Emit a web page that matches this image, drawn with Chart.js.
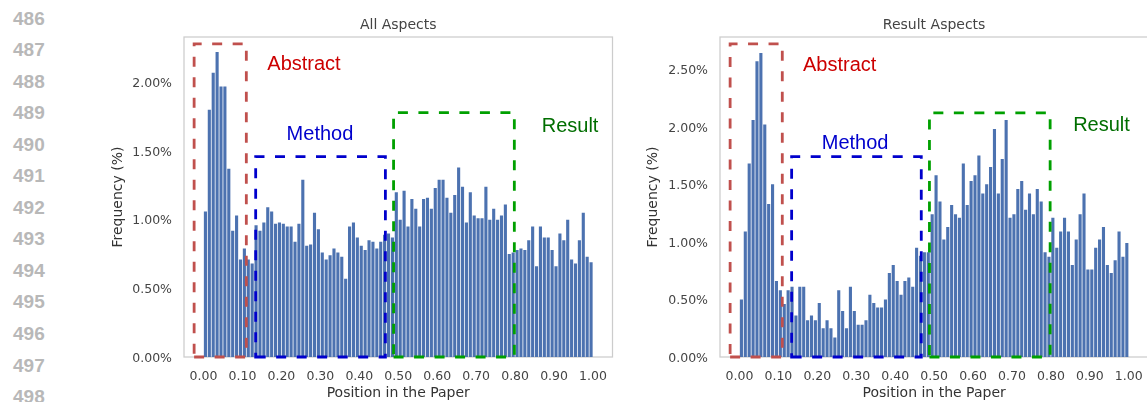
<!DOCTYPE html>
<html>
<head>
<meta charset="utf-8">
<script src="https://cdn.jsdelivr.net/npm/chart.js@4.4.1/dist/chart.umd.min.js"></script>
<style>
  html, body { margin: 0; padding: 0; background: #fff; }
  #wrap { position: relative; width: 1147px; height: 402px; overflow: hidden; }
  .lineno { position: absolute; left: 13px; font: bold 19px "Liberation Sans", Arial, sans-serif; color: #b8b8b8; line-height: 19px; }
  canvas { position: absolute; top: 0; }
</style>
</head>
<body>
<div id="wrap">
  <canvas id="chart-all" width="535" height="402" style="left:90px"></canvas>
  <canvas id="chart-result" width="530" height="402" style="left:625px"></canvas>
</div>
<script>
// Histogram bins: 100 bins of width 0.01 over [0, 1]
const BIN_CENTERS = Array.from({ length: 100 }, (_, i) => (i + 0.5) / 100);

// Frequency (%) per bin
const ALL_FREQ = [
  1.06, 1.80, 2.07, 2.22, 1.97, 1.97, 1.37, 0.92, 1.03, 0.71,
  0.79, 0.71, 0.68, 0.96, 0.92, 0.98, 1.09, 1.06, 0.97, 0.98,
  0.97, 0.95, 0.95, 0.84, 0.97, 1.29, 0.81, 0.82, 1.05, 0.93,
  0.76, 0.71, 0.74, 0.79, 0.76, 0.73, 0.57, 0.95, 0.98, 0.87,
  0.81, 0.78, 0.85, 0.84, 0.79, 0.84, 0.89, 0.90, 0.87, 1.20,
  1.00, 1.21, 0.95, 1.15, 1.08, 0.95, 1.15, 1.16, 1.08, 1.23,
  1.29, 1.29, 1.16, 1.05, 1.18, 1.38, 1.24, 0.98, 1.20, 1.03,
  1.01, 1.01, 1.24, 1.00, 1.08, 1.00, 1.03, 1.11, 0.75, 0.76,
  0.78, 0.79, 0.78, 0.85, 0.95, 0.66, 0.95, 0.87, 0.87, 0.78,
  0.66, 0.90, 0.85, 1.00, 0.71, 0.68, 0.85, 1.05, 0.73, 0.69,
];

const RESULT_FREQ = [
  0.50, 1.09, 1.68, 2.06, 2.57, 2.64, 2.02, 1.33, 1.50, 0.66,
  0.58, 0.46, 0.58, 0.61, 0.36, 0.61, 0.61, 0.32, 0.36, 0.32,
  0.47, 0.25, 0.32, 0.25, 0.17, 0.58, 0.40, 0.25, 0.61, 0.40,
  0.28, 0.28, 0.32, 0.54, 0.47, 0.43, 0.43, 0.50, 0.73, 0.80,
  0.66, 0.54, 0.66, 0.69, 0.61, 0.95, 0.88, 0.91, 0.91, 1.24,
  1.58, 1.35, 1.02, 1.13, 1.32, 1.24, 1.21, 1.68, 1.32, 1.53,
  1.58, 1.75, 1.42, 1.50, 1.65, 1.98, 1.42, 1.72, 2.06, 1.21,
  1.24, 1.46, 1.53, 1.28, 1.42, 1.24, 1.46, 1.35, 0.91, 0.87,
  1.21, 0.95, 1.09, 1.21, 1.09, 0.80, 1.02, 1.24, 1.42, 0.76,
  0.76, 0.95, 1.02, 1.13, 0.80, 0.73, 0.84, 1.09, 0.87, 0.99,
];

const X_TICKS = [0, 0.1, 0.2, 0.3, 0.4, 0.5, 0.6, 0.7, 0.8, 0.9, 1.0];
const Y_TICKS_ALL = [0, 0.5, 1.0, 1.5, 2.0];
const Y_TICKS_RESULT = [0, 0.5, 1.0, 1.5, 2.0, 2.5];

const LINE_NUMBERS = [486, 487, 488, 489, 490, 491, 492, 493, 494, 495, 496, 497, 498];

// Section boxes (data coords) and their labels
const REGIONS_ALL = [
  { name: 'Abstract', x0: -0.024, x1: 0.11, top: 2.28, lx: 0.258, ly: 2.127, box: '#c0504d', text: '#cc0000' },
  { name: 'Method', x0: 0.134, x1: 0.467, top: 1.459, lx: 0.299, ly: 1.617, box: '#0000cc', text: '#0000cc' },
  { name: 'Result', x0: 0.488, x1: 0.798, top: 1.779, lx: 0.941, ly: 1.682, box: '#00a000', text: '#006e00' },
];
const REGIONS_RESULT = [
  { name: 'Abstract', x0: -0.024, x1: 0.11, top: 2.72, lx: 0.2575, ly: 2.533, box: '#c0504d', text: '#cc0000' },
  { name: 'Method', x0: 0.134, x1: 0.467, top: 1.74, lx: 0.297, ly: 1.857, box: '#0000cc', text: '#0000cc' },
  { name: 'Result', x0: 0.488, x1: 0.798, top: 2.12, lx: 0.93, ly: 2.007, box: '#00a000', text: '#006e00' },
];

const FONT = '"DejaVu Sans", sans-serif';
const TEXT = '#444444';

// line numbers down the left margin
const wrap = document.getElementById('wrap');
LINE_NUMBERS.forEach((n, k) => {
  const el = document.createElement('div');
  el.className = 'lineno';
  el.textContent = n;
  el.style.top = (8.5 + k * 31.55) + 'px';
  wrap.appendChild(el);
});

// light grey frame round the plot area
const framePlugin = {
  id: 'frame',
  beforeDatasetsDraw(chart) {
    const { ctx, chartArea: a } = chart;
    ctx.save();
    ctx.strokeStyle = '#cccccc';
    ctx.lineWidth = 1.25;
    ctx.strokeRect(a.left, a.top, a.right - a.left, a.bottom - a.top);
    ctx.restore();
  },
};

// dashed section boxes + labels
const regionPlugin = {
  id: 'regions',
  afterDatasetsDraw(chart, args, opts) {
    const { ctx, scales: { x, y } } = chart;
    ctx.save();
    opts.list.forEach((r) => {
      const x0 = x.getPixelForValue(r.x0);
      const x1 = x.getPixelForValue(r.x1);
      const yb = y.getPixelForValue(0);
      const yt = y.getPixelForValue(r.top);
      ctx.strokeStyle = r.box;
      ctx.lineWidth = 2.8;
      ctx.setLineDash([10, 10.5]);
      ctx.beginPath();
      ctx.moveTo(x0, yb);
      ctx.lineTo(x1, yb);
      ctx.lineTo(x1, yt);
      ctx.lineTo(x0, yt);
      ctx.closePath();
      ctx.stroke();

      ctx.setLineDash([]);
      ctx.fillStyle = r.text;
      ctx.font = '20px "Liberation Sans", Arial, sans-serif';
      ctx.textAlign = 'center';
      ctx.textBaseline = 'middle';
      ctx.fillText(r.name, x.getPixelForValue(r.lx), y.getPixelForValue(r.ly));
    });
    ctx.restore();
  },
};

function makePanel(id, title, freq, yMax, yTicks, regions, yWidth, yTitlePad, padRight) {
  return new Chart(document.getElementById(id), {
    type: 'bar',
    data: {
      datasets: [{
        data: BIN_CENTERS.map((x, i) => ({ x, y: freq[i] })),
        backgroundColor: '#4c72b0',
        borderWidth: 0,
        barPercentage: 0.8,
        categoryPercentage: 1,
      }],
    },
    options: {
      responsive: false,
      animation: false,
      events: [],
      layout: { padding: { left: 0, right: padRight, top: 0, bottom: 0 } },
      plugins: {
        legend: { display: false },
        tooltip: { enabled: false },
        title: {
          display: true,
          text: title,
          fullSize: false,
          color: TEXT,
          font: { family: FONT, size: 14, weight: 'normal' },
          padding: { top: 16.9, bottom: 3.3 },
        },
        regions: { list: regions },
      },
      scales: {
        x: {
          type: 'linear',
          min: -0.05,
          max: 1.05,
          offset: false,
          grid: { display: false, drawTicks: false },
          border: { display: false },
          afterBuildTicks: (s) => { s.ticks = X_TICKS.map((v) => ({ value: v })); },
          afterFit: (s) => { s.height = 45; },
          ticks: {
            autoSkip: false,
            maxRotation: 0,
            padding: 12,
            color: TEXT,
            font: { family: FONT, size: 12.5 },
            callback: (v) => v.toFixed(2),
          },
          title: {
            display: true,
            text: 'Position in the Paper',
            color: '#333',
            font: { family: FONT, size: 14 },
            padding: { top: 0, bottom: 0 },
          },
        },
        y: {
          min: 0,
          max: yMax,
          grid: { display: false, drawTicks: false },
          border: { display: false },
          afterBuildTicks: (s) => { s.ticks = yTicks.map((v) => ({ value: v })); },
          afterFit: (s) => { s.width = yWidth; },
          ticks: {
            padding: 12,
            labelOffset: 1.5,
            color: TEXT,
            font: { family: FONT, size: 12.5 },
            callback: (v) => v.toFixed(2) + '%',
          },
          title: {
            display: true,
            text: 'Frequency (%)',
            color: '#333',
            font: { family: FONT, size: 14 },
            padding: { top: yTitlePad, bottom: 0 },
          },
        },
      },
    },
    plugins: [framePlugin, regionPlugin],
  });
}

makePanel('chart-all', 'All Aspects', ALL_FREQ, 2.33, Y_TICKS_ALL, REGIONS_ALL, 94, 20.1, 12.5);
makePanel('chart-result', 'Result Aspects', RESULT_FREQ, 2.78, Y_TICKS_RESULT, REGIONS_RESULT, 95, 20.4, 6.5);
</script>
</body>
</html>
